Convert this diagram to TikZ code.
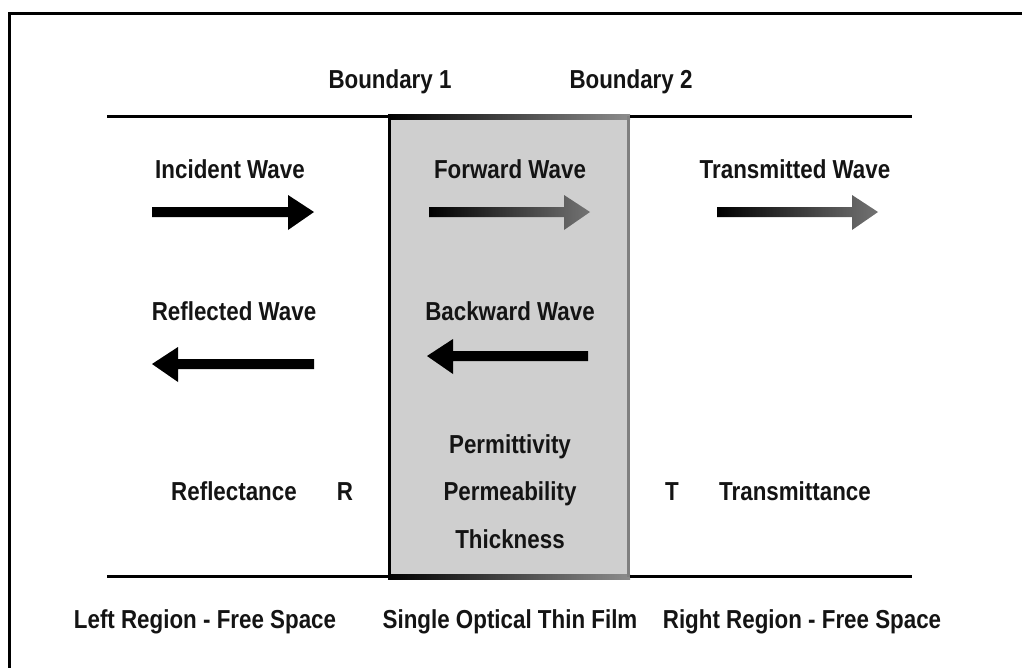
\documentclass[tikz,border=0pt]{standalone}
\usepackage{fontspec}
\newfontfamily\labfont{Liberation Sans}[FakeStretch=0.86]
\begin{document}
\begin{tikzpicture}[x=1pt,y=-1pt,
  lab/.style={font=\labfont\bfseries\fontsize{26}{30}\selectfont, text=black!92, inner sep=0pt, anchor=base},
  bline/.style={line width=3pt, black},
  fwd/.style={left color=black, right color=black!55},
]
\useasboundingbox (0,0) rectangle (1022,667);
% outer frame (only left and top edges visible)
\draw[line width=3pt] (9,680) -- (9,13) -- (1040,13);
% film box
\fill[black!19] (388,116) rectangle (630,577);
\shade[left color=black, right color=black!45] (388,114.5) rectangle (630,119);
\shade[left color=black, right color=black!45] (388,574.5) rectangle (630,579);
\draw[line width=3pt, black] (389.5,116) -- (389.5,577);
\draw[line width=3pt, black!50] (628.5,116) -- (628.5,577);
% horizontal boundary lines
\draw[bline] (107,116.5) -- (388,116.5);
\draw[bline] (630,116.5) -- (912,116.5);
\draw[bline] (107,576.5) -- (388,576.5);
\draw[bline] (630,576.5) -- (912,576.5);
% labels
\node[lab] (b1) at (390,88) {Boundary 1};
\node[lab] (b2) at (631,88) {Boundary 2};
\node[lab] (inc) at (230,178) {Incident Wave};
\node[lab] (fw) at (510,178) {Forward Wave};
\node[lab] (tr) at (795,178) {Transmitted Wave};
\node[lab] (rf) at (234,320) {Reflected Wave};
\node[lab] (bw) at (510,320) {Backward Wave};
\node[lab] (perm) at (510,453) {Permittivity};
\node[lab] (pmb) at (510,500) {Permeability};
\node[lab] (thk) at (510,548) {Thickness};
\node[lab] (rfl) at (234,500) {Reflectance};
\node[lab] (R) at (345,500) {R};
\node[lab] (T) at (672,500) {T};
\node[lab] (trm) at (795,500) {Transmittance};
\node[lab] (lr) at (205,628) {Left Region - Free Space};
\node[lab] (sf) at (510,628) {Single Optical Thin Film};
\node[lab] (rr) at (802,628) {Right Region - Free Space};
% arrows
\fill[black] (152,207) -- (288,207) -- (288,195) -- (314,212) -- (288,230) -- (288,217) -- (152,217) -- cycle;
\shade[fwd] (429,207) -- (564,207) -- (564,195) -- (590,212) -- (564,230) -- (564,217) -- (429,217) -- cycle;
\shade[fwd] (717,207) -- (852,207) -- (852,195) -- (878,212) -- (852,230) -- (852,217) -- (717,217) -- cycle;
\fill[black] (314,359) -- (178,359) -- (178,347) -- (152,364) -- (178,382) -- (178,369) -- (314,369) -- cycle;
\fill[black] (588,351) -- (453,351) -- (453,339) -- (427,356) -- (453,374) -- (453,361) -- (588,361) -- cycle;
\end{tikzpicture}
\end{document}
